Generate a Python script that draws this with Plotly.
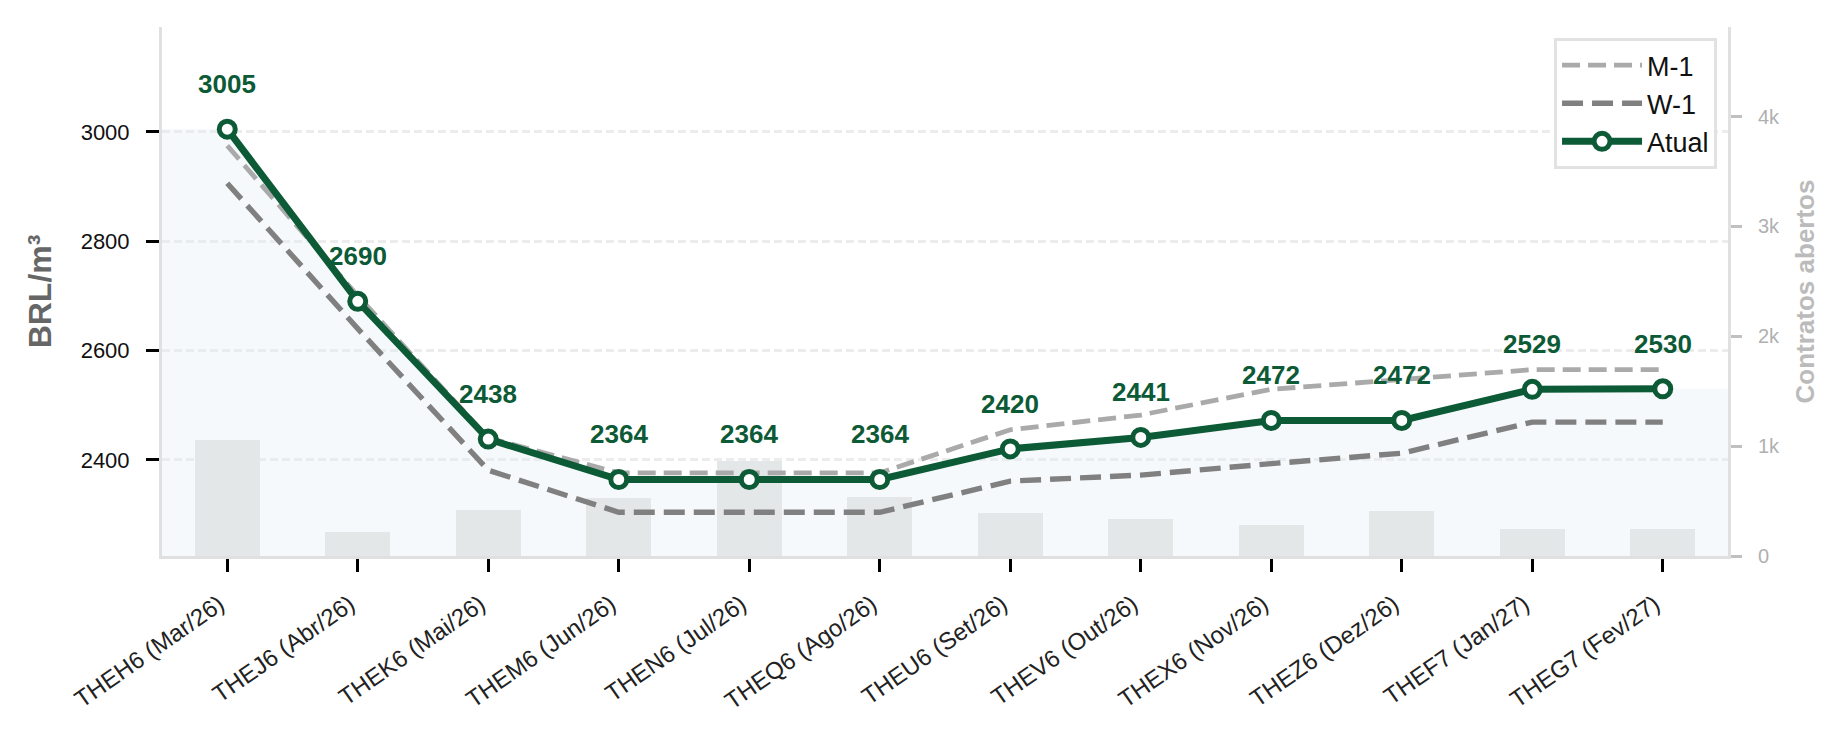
import plotly.graph_objects as go

categories = ["THEH6 (Mar/26)", "THEJ6 (Abr/26)", "THEK6 (Mai/26)", "THEM6 (Jun/26)",
              "THEN6 (Jul/26)", "THEQ6 (Ago/26)", "THEU6 (Set/26)", "THEV6 (Out/26)",
              "THEX6 (Nov/26)", "THEZ6 (Dez/26)", "THEF7 (Jan/27)", "THEG7 (Fev/27)"]
atual = [3005, 2690, 2438, 2364, 2364, 2364, 2420, 2441, 2472, 2472, 2529, 2530]
m1 = [2975, 2700, 2440, 2376, 2376, 2376, 2455, 2482, 2529, 2548, 2565, 2565]
w1 = [2906, 2640, 2381, 2304, 2304, 2304, 2361, 2372, 2393, 2412, 2469, 2469]
open_interest = [1060, 215, 415, 525, 865, 535, 390, 340, 280, 410, 245, 245]
right_tickvals = [0, 1000, 2000, 3000, 4000]
right_ticktext = ["0", "1k", "2k", "3k", "4k"]
left_tickvals = [2400, 2600, 2800, 3000]

GREEN = "#0c5a36"
FONT = "Liberation Sans, Arial, sans-serif"
idx = list(range(len(categories)))
n = len(categories)

fig = go.Figure()

# light fill under the current curve, extended to the plot edges
fill_x = [-0.5] + idx + [n - 0.5]
fill_y = [atual[0]] + atual + [atual[-1]]
fig.add_trace(go.Scatter(x=fill_x, y=fill_y, mode="lines", fill="tozeroy",
                         fillcolor="rgba(225,238,244,0.35)", line=dict(width=0),
                         showlegend=False, hoverinfo="skip", yaxis="y"))

# open interest bars (right axis)
fig.add_trace(go.Bar(x=idx, y=open_interest, width=0.5, marker=dict(color="#e4e7e8", line=dict(width=0)),
                     showlegend=False, yaxis="y2"))

# curves (on top)
fig.add_trace(go.Scatter(x=idx, y=m1, mode="lines", name="M-1", legendgroup="a",
                         line=dict(color="#aaaaaa", width=4.8, dash="18px,8px"), yaxis="y3"))
fig.add_trace(go.Scatter(x=idx, y=w1, mode="lines", name="W-1", legendgroup="b",
                         line=dict(color="#808080", width=5.4, dash="21px,9px"), yaxis="y3"))
fig.add_trace(go.Scatter(x=idx, y=atual, mode="lines+markers", name="Atual", legendgroup="c",
                         line=dict(color=GREEN, width=7),
                         marker=dict(size=16, color="white", line=dict(color=GREEN, width=5)),
                         yaxis="y3"))

for i, v in zip(idx, atual):
    fig.add_annotation(x=i, y=v, xref="x", yref="y3", text=f"<b>{v}</b>", showarrow=False,
                       yshift=45, font=dict(size=26, color=GREEN, family=FONT))

yrange = [2224, 3192]
fig.update_layout(
    width=1846, height=734,
    margin=dict(l=162, r=118, t=27, b=178),
    paper_bgcolor="white", plot_bgcolor="white",
    font=dict(family=FONT, color="#222222"),
    bargap=0,
    xaxis=dict(range=[-0.5, n - 0.5], tickvals=idx, ticktext=categories, tickangle=-35,
               tickfont=dict(size=24, color="#222222"), ticks="outside", ticklen=13,
               tickwidth=2.5, tickcolor="black", showline=True, linecolor="#e0e0e0",
               linewidth=3, showgrid=False, zeroline=False, ticklabelstandoff=9,
               ticklabelshift=-8),
    yaxis=dict(range=yrange, tickvals=left_tickvals, tickfont=dict(size=22, color="#111111"),
               ticks="outside", ticklen=13, tickwidth=2.5, tickcolor="black",
               showline=True, linecolor="#e0e0e0", linewidth=3,
               showgrid=True, gridcolor="#ececec", gridwidth=2.5, griddash="8px,4px",
               zeroline=False, ticklabelstandoff=12,
               title=dict(text="<b>BRL/m³</b>", font=dict(size=32, color="#666666"), standoff=20)),
    yaxis2=dict(range=[0, 4816], overlaying="y", side="right", tickvals=right_tickvals,
                ticktext=right_ticktext, tickfont=dict(size=20, color="#b0b0b0"),
                ticks="outside", ticklen=11, tickwidth=2.5, tickcolor="#c0c0c0",
                showline=True, linecolor="#e0e0e0", linewidth=3, showgrid=False, zeroline=False,
                ticklabelstandoff=12,
                title=dict(text="<b>Contratos abertos</b>", font=dict(size=26, color="#bbbbbb"), standoff=17)),
    yaxis3=dict(range=yrange, overlaying="y", visible=False),
    legend=dict(x=0.993, y=0.979, xanchor="right", yanchor="top", bgcolor="white",
                bordercolor="#e2e2e2", borderwidth=3, font=dict(size=27, color="#111111"),
                tracegroupgap=15, traceorder="normal", itemwidth=80),
    showlegend=True,
)

fig.write_html("out.html")
